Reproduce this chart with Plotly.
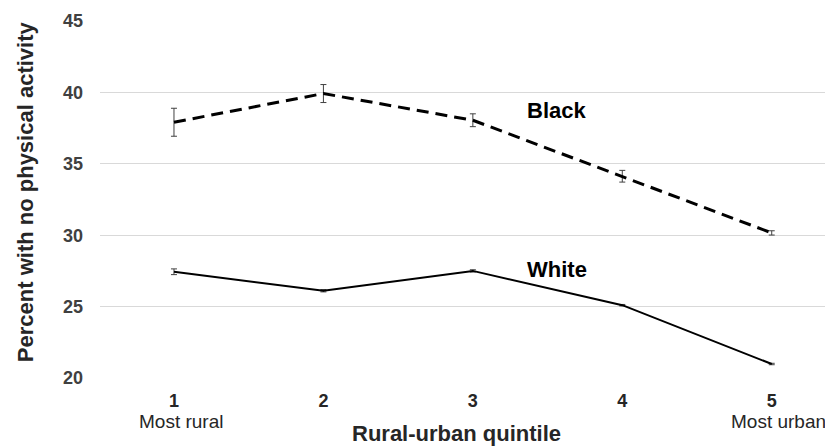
import plotly.graph_objects as go

quintiles = [1, 2, 3, 4, 5]
tick_labels = ["<b>1</b>", "<b>2</b>", "<b>3</b>", "<b>4</b>", "<b>5</b>"]
end_labels = {1: "Most rural", 5: "Most urban"}
y_ticks = [20, 25, 30, 35, 40, 45]

black_vals = [37.91, 39.92, 38.05, 34.13, 30.16]
black_err = [0.98, 0.63, 0.45, 0.41, 0.15]
white_vals = [27.44, 26.11, 27.5, 25.1, 20.98]
white_err = [0.2, 0.08, 0.08, 0.05, 0.05]

FONT = "Liberation Sans, Arial, sans-serif"

fig = go.Figure()
fig.add_trace(go.Scatter(
    x=quintiles, y=black_vals, mode="lines", name="Black",
    line=dict(color="black", width=3, dash="12px,7px"),
    error_y=dict(type="data", array=black_err, color="#404040", thickness=1, width=3),
))
fig.add_trace(go.Scatter(
    x=quintiles, y=white_vals, mode="lines", name="White",
    line=dict(color="black", width=2),
    error_y=dict(type="data", array=white_err, color="#404040", thickness=1, width=3),
))

# series labels
fig.add_annotation(x=3.562, y=38.7, text="<b>Black</b>", showarrow=False,
                   font=dict(family=FONT, size=22, color="black"))
fig.add_annotation(x=3.562, y=27.62, text="<b>White</b>", showarrow=False,
                   font=dict(family=FONT, size=22, color="black"))

# end labels under the axis
for q, txt in end_labels.items():
    fig.add_annotation(x=q + 0.045, xref="x", y=-0.123, yref="paper", yanchor="middle",
                       text=txt, showarrow=False,
                       font=dict(family=FONT, size=19, color="#262626"))

# axis titles
fig.add_annotation(x=0.4857, xref="paper", y=-0.155, yref="paper", yanchor="middle",
                   text="<b>Rural-urban quintile</b>", showarrow=False,
                   font=dict(family=FONT, size=22, color="#262626"))
fig.add_annotation(x=-0.1023, xref="paper", y=0.5206, yref="paper",
                   xanchor="center", yanchor="middle", textangle=-90,
                   text="<b>Percent with no physical activity</b>", showarrow=False,
                   font=dict(family=FONT, size=22, color="#262626"))

fig.update_layout(
    width=825, height=438,
    margin=dict(l=92, r=0, t=13, b=68),
    paper_bgcolor="white", plot_bgcolor="white",
    showlegend=False,
    font=dict(family=FONT, color="#262626"),
)
fig.update_xaxes(
    range=[0.505, 5.41], tickmode="array", tickvals=quintiles, ticktext=tick_labels,
    showgrid=False, zeroline=False, showline=False, ticks="",
    ticklabelstandoff=10,
    tickfont=dict(family=FONT, size=18, color="#262626"),
)
fig.update_yaxes(
    range=[20, 45], tickmode="array", tickvals=y_ticks,
    ticktext=["<b>%d</b>" % v for v in y_ticks],
    showgrid=True, gridcolor="#d9d9d9", gridwidth=1, zeroline=False, showline=False,
    ticks="", ticklabelstandoff=16,
    tickfont=dict(family=FONT, size=18, color="#404040"),
)

fig.write_html("out.html")
